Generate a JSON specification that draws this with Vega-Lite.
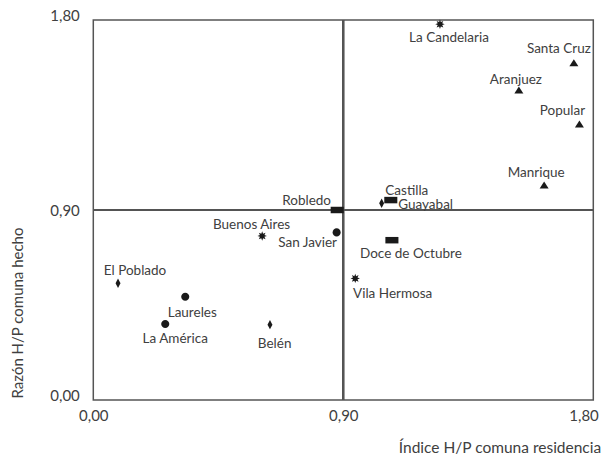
{
  "$schema": "https://vega.github.io/schema/vega-lite/v6.json",
  "width": 500,
  "height": 380,
  "autosize": "none",
  "padding": {"left": 93.3, "top": 20, "right": 11.7, "bottom": 61},
  "background": "white",
  "config": {
    "view": {"stroke": "#555555", "strokeWidth": 1.5},
    "font": "Lato",
    "text": {"font": "Lato", "fontSize": 13.5, "color": "#404040", "align": "center", "baseline": "middle"}
  },
  "data": {
    "values": [
      {"comuna": "La Candelaria", "zona": "Centroriental", "residencia": 1.248, "hecho": 1.780},
      {"comuna": "Santa Cruz", "zona": "Nororiental", "residencia": 1.730, "hecho": 1.598},
      {"comuna": "Aranjuez", "zona": "Nororiental", "residencia": 1.532, "hecho": 1.468},
      {"comuna": "Popular", "zona": "Nororiental", "residencia": 1.750, "hecho": 1.307},
      {"comuna": "Manrique", "zona": "Nororiental", "residencia": 1.623, "hecho": 1.018},
      {"comuna": "Castilla", "zona": "Noroccidental", "residencia": 1.071, "hecho": 0.947},
      {"comuna": "Guayabal", "zona": "Sur", "residencia": 1.038, "hecho": 0.932},
      {"comuna": "Robledo", "zona": "Noroccidental", "residencia": 0.878, "hecho": 0.900},
      {"comuna": "Buenos Aires", "zona": "Centroriental", "residencia": 0.608, "hecho": 0.777},
      {"comuna": "San Javier", "zona": "Centroccidental", "residencia": 0.876, "hecho": 0.794},
      {"comuna": "Doce de Octubre", "zona": "Noroccidental", "residencia": 1.075, "hecho": 0.757},
      {"comuna": "Vila Hermosa", "zona": "Centroriental", "residencia": 0.943, "hecho": 0.576},
      {"comuna": "El Poblado", "zona": "Sur", "residencia": 0.089, "hecho": 0.553},
      {"comuna": "Laureles", "zona": "Centroccidental", "residencia": 0.331, "hecho": 0.489},
      {"comuna": "La América", "zona": "Centroccidental", "residencia": 0.259, "hecho": 0.360},
      {"comuna": "Belén", "zona": "Sur", "residencia": 0.636, "hecho": 0.357}
    ]
  },
  "layer": [
    {
      "mark": {"type": "rule", "color": "#555555", "strokeWidth": 1.5},
      "encoding": {"x": {"datum": 0.9, "type": "quantitative", "scale": {"domain": [0, 1.8], "nice": false, "zero": false}}}
    },
    {
      "mark": {"type": "rule", "color": "#555555", "strokeWidth": 1.5},
      "encoding": {"y": {"datum": 0.9, "type": "quantitative", "scale": {"domain": [0, 1.8], "nice": false, "zero": false}}}
    },
    {
      "mark": {"type": "point", "filled": true, "size": 81, "color": "#1a1a1a", "opacity": 1, "strokeWidth": 0},
      "encoding": {
        "x": {
          "field": "residencia", "type": "quantitative",
          "scale": {"domain": [0, 1.8], "nice": false, "zero": false},
          "axis": {
            "values": [0, 0.9, 1.8],
            "labelExpr": "replace(format(datum.value, '.2f'), '.', ',')",
            "ticks": false, "tickSize": 0, "domain": false, "grid": false,
            "labelFont": "Lato", "labelFontSize": 15, "labelColor": "#404040", "labelPadding": 8,
            "labelAlign": {"condition": {"test": "datum.value == 1.8", "value": "right"}, "value": "center"},
            "labelOffset": {"condition": {"test": "datum.value == 1.8", "value": 5}, "value": 0},
            "labelFlush": false,
            "title": "Índice H/P comuna residencia",
            "titleFont": "Lato", "titleFontSize": 15.5, "titleFontWeight": "normal", "titleColor": "#404040",
            "titleAnchor": "end", "titleAlign": "right", "titleBaseline": "alphabetic",
            "titleX": 507.4, "titleY": 52.7
          }
        },
        "y": {
          "field": "hecho", "type": "quantitative",
          "scale": {"domain": [0, 1.8], "nice": false, "zero": false},
          "axis": {
            "values": [0, 0.9, 1.8],
            "labelExpr": "replace(format(datum.value, '.2f'), '.', ',')",
            "ticks": false, "tickSize": 0, "domain": false, "grid": false,
            "labelFont": "Lato", "labelFontSize": 15, "labelColor": "#404040", "labelPadding": 14,
            "labelBaseline": {"condition": {"test": "datum.value == 0.9", "value": "middle"}, "value": "alphabetic"},
            "labelFlush": false,
            "title": "Razón H/P comuna hecho",
            "titleFont": "Lato", "titleFontSize": 15, "titleFontWeight": "normal", "titleColor": "#404040",
            "titleAngle": -90, "titleAlign": "left", "titleBaseline": "middle",
            "titleX": -75.8, "titleY": 378
          }
        },
        "shape": {
          "field": "zona", "type": "nominal", "legend": null,
          "scale": {
            "domain": ["Nororiental", "Noroccidental", "Centroriental", "Centroccidental", "Sur"],
            "range": [
              "M-1,0.78L1,0.78L0,-0.78Z",
              "M-1.45,-0.72L1.45,-0.72L1.45,0.72L-1.45,0.72Z",
              "M1.05,0L0.5,0.2L0.74,0.74L0.2,0.5L0,1.05L-0.2,0.5L-0.74,0.74L-0.5,0.2L-1.05,0L-0.5,-0.2L-0.74,-0.74L-0.2,-0.5L0,-1.05L0.2,-0.5L0.74,-0.74L0.5,-0.2Z",
              "M-0.9,0A0.9,0.9 0 1,0 0.9,0A0.9,0.9 0 1,0 -0.9,0Z",
              "M0,-1.04L0.55,0L0,1.04L-0.55,0Z"
            ]
          }
        }
      }
    },
    {"transform": [{"filter": "datum.comuna == 'La Candelaria'"}], "mark": {"type": "text", "dx": 9, "dy": 13.5}, "encoding": {"x": {"field": "residencia", "type": "quantitative"}, "y": {"field": "hecho", "type": "quantitative"}, "text": {"field": "comuna"}}},
    {"transform": [{"filter": "datum.comuna == 'Santa Cruz'"}], "mark": {"type": "text", "dx": -15, "dy": -13.5}, "encoding": {"x": {"field": "residencia", "type": "quantitative"}, "y": {"field": "hecho", "type": "quantitative"}, "text": {"field": "comuna"}}},
    {"transform": [{"filter": "datum.comuna == 'Aranjuez'"}], "mark": {"type": "text", "dx": -3, "dy": -10}, "encoding": {"x": {"field": "residencia", "type": "quantitative"}, "y": {"field": "hecho", "type": "quantitative"}, "text": {"field": "comuna"}}},
    {"transform": [{"filter": "datum.comuna == 'Popular'"}], "mark": {"type": "text", "dx": -17, "dy": -13.5}, "encoding": {"x": {"field": "residencia", "type": "quantitative"}, "y": {"field": "hecho", "type": "quantitative"}, "text": {"field": "comuna"}}},
    {"transform": [{"filter": "datum.comuna == 'Manrique'"}], "mark": {"type": "text", "dx": -8, "dy": -12.5}, "encoding": {"x": {"field": "residencia", "type": "quantitative"}, "y": {"field": "hecho", "type": "quantitative"}, "text": {"field": "comuna"}}},
    {"transform": [{"filter": "datum.comuna == 'Castilla'"}], "mark": {"type": "text", "dx": 16, "dy": -9.5}, "encoding": {"x": {"field": "residencia", "type": "quantitative"}, "y": {"field": "hecho", "type": "quantitative"}, "text": {"field": "comuna"}}},
    {"transform": [{"filter": "datum.comuna == 'Guayabal'"}], "mark": {"type": "text", "dx": 44, "dy": 1.5}, "encoding": {"x": {"field": "residencia", "type": "quantitative"}, "y": {"field": "hecho", "type": "quantitative"}, "text": {"field": "comuna"}}},
    {"transform": [{"filter": "datum.comuna == 'Robledo'"}], "mark": {"type": "text", "dx": -30.6, "dy": -9}, "encoding": {"x": {"field": "residencia", "type": "quantitative"}, "y": {"field": "hecho", "type": "quantitative"}, "text": {"field": "comuna"}}},
    {"transform": [{"filter": "datum.comuna == 'Buenos Aires'"}], "mark": {"type": "text", "dx": -10.6, "dy": -10.8}, "encoding": {"x": {"field": "residencia", "type": "quantitative"}, "y": {"field": "hecho", "type": "quantitative"}, "text": {"field": "comuna"}}},
    {"transform": [{"filter": "datum.comuna == 'San Javier'"}], "mark": {"type": "text", "dx": -29, "dy": 11}, "encoding": {"x": {"field": "residencia", "type": "quantitative"}, "y": {"field": "hecho", "type": "quantitative"}, "text": {"field": "comuna"}}},
    {"transform": [{"filter": "datum.comuna == 'Doce de Octubre'"}], "mark": {"type": "text", "dx": 19, "dy": 14.2}, "encoding": {"x": {"field": "residencia", "type": "quantitative"}, "y": {"field": "hecho", "type": "quantitative"}, "text": {"field": "comuna"}}},
    {"transform": [{"filter": "datum.comuna == 'Vila Hermosa'"}], "mark": {"type": "text", "dx": 37.4, "dy": 15.2}, "encoding": {"x": {"field": "residencia", "type": "quantitative"}, "y": {"field": "hecho", "type": "quantitative"}, "text": {"field": "comuna"}}},
    {"transform": [{"filter": "datum.comuna == 'El Poblado'"}], "mark": {"type": "text", "dx": 17, "dy": -12.3}, "encoding": {"x": {"field": "residencia", "type": "quantitative"}, "y": {"field": "hecho", "type": "quantitative"}, "text": {"field": "comuna"}}},
    {"transform": [{"filter": "datum.comuna == 'Laureles'"}], "mark": {"type": "text", "dx": 7, "dy": 16.3}, "encoding": {"x": {"field": "residencia", "type": "quantitative"}, "y": {"field": "hecho", "type": "quantitative"}, "text": {"field": "comuna"}}},
    {"transform": [{"filter": "datum.comuna == 'La América'"}], "mark": {"type": "text", "dx": 10, "dy": 14.5}, "encoding": {"x": {"field": "residencia", "type": "quantitative"}, "y": {"field": "hecho", "type": "quantitative"}, "text": {"field": "comuna"}}},
    {"transform": [{"filter": "datum.comuna == 'Belén'"}], "mark": {"type": "text", "dx": 4.7, "dy": 19.5}, "encoding": {"x": {"field": "residencia", "type": "quantitative"}, "y": {"field": "hecho", "type": "quantitative"}, "text": {"field": "comuna"}}}
  ]
}
